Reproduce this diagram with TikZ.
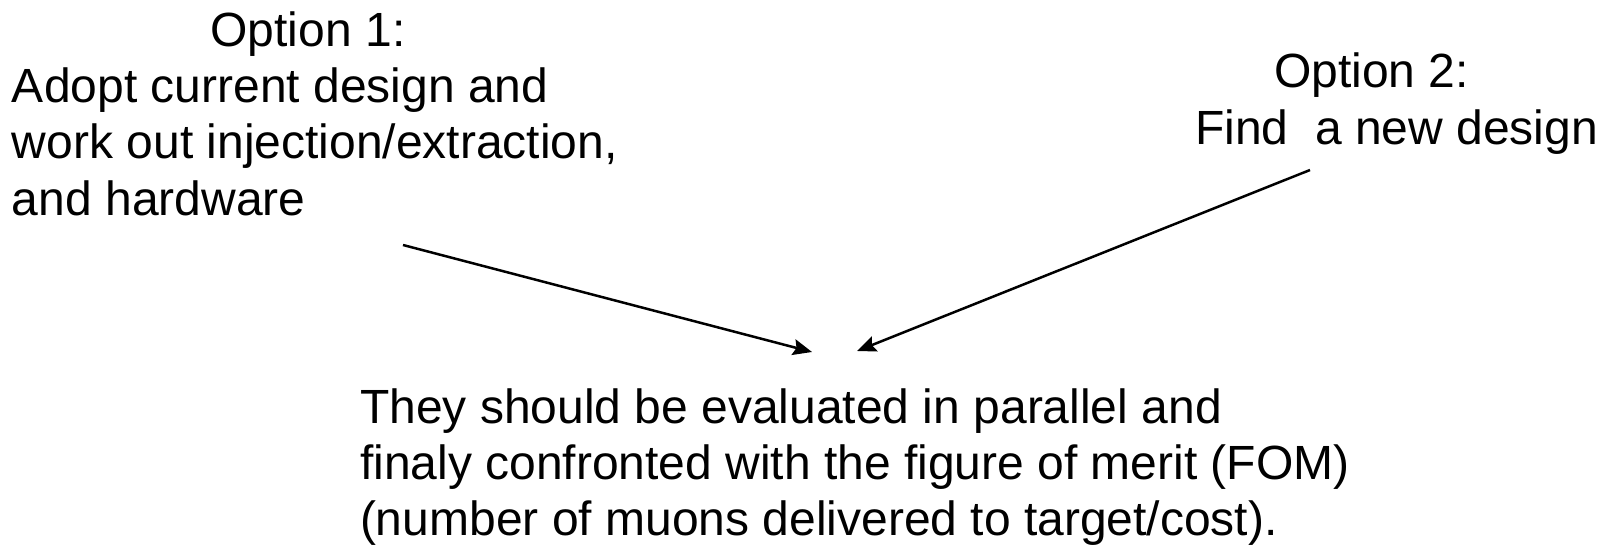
\documentclass[tikz,border=0pt]{standalone}
\usepackage{fontspec}
\setmainfont{Liberation Sans}
\usetikzlibrary{arrows.meta}
\begin{document}
\begin{tikzpicture}[x=1pt,y=-1pt,
  txt/.style={inner sep=0pt,outer sep=0pt,font=\fontsize{48}{56}\selectfont},
  arr/.style={line width=2.5pt,-{Stealth[length=19pt,width=16pt,inset=3pt]}}]
\useasboundingbox[fill=white] (0,0) rectangle (1600,548);
% Option 1
\node[txt,anchor=base] (o1t) at (308,47) {Option 1:};
\node[txt,anchor=base west] (o1a) at (12,103) {Adopt current design and};
\node[txt,anchor=base west] (o1b) at (12,159) {work out injection/extraction,};
\node[txt,anchor=base west] (o1c) at (12,215) {and hardware};
% Option 2
\node[txt,anchor=base west] (o2t) at (1274,88) {Option 2:};
\node[txt,anchor=base west] (o2a) at (1195,145) {Find\ \ a new design};
% Result
\node[txt,anchor=base west] (r1) at (360,423) {They should be evaluated in parallel and};
\node[txt,anchor=base west] (r2) at (360,479) {finaly confronted with the figure of merit (FOM)};
\node[txt,anchor=base west] (r3) at (360,535) {(number of muons delivered to target/cost).};
% arrows
\coordinate (a1s) at (403,245);
\coordinate (a1e) at (812,352);
\coordinate (a2s) at (1310,170);
\coordinate (a2e) at (857,351);
\draw[arr] (a1s) -- (a1e);
\draw[arr] (a2s) -- (a2e);
\end{tikzpicture}
\end{document}
